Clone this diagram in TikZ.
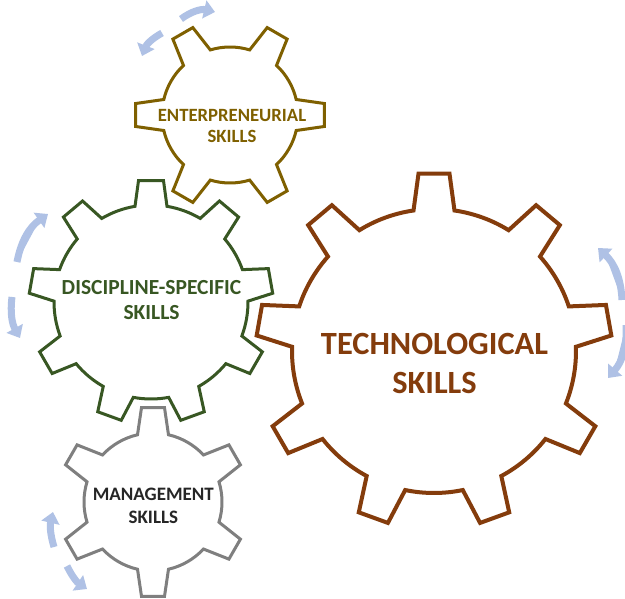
\documentclass[tikz,border=0pt]{standalone}
\usepackage{fontspec}
\setmainfont{Carlito}
\usetikzlibrary{arrows.meta}
\definecolor{olivec}{HTML}{7F6000}
\definecolor{greenc}{HTML}{385723}
\definecolor{grayc}{HTML}{7F7F7F}
\definecolor{mgtext}{HTML}{262626}
\definecolor{techc}{HTML}{843C0C}
\definecolor{arrowc}{HTML}{AFC1E5}
% #1 cx, #2 cy, #3 teeth, #4 first tooth angle, #5 tip radius, #6 root radius,
% #7 tip half width, #8 base half width, #9 style
\newcommand\drawgear[9]{%
  \pgfmathsetmacro\gstep{360/#3}%
  \pgfmathsetmacro\gth{asin(#7/#5)}%
  \pgfmathsetmacro\gbh{asin(#8/#6)}%
  \pgfmathtruncatemacro\glast{#3-1}%
  \draw[#9] ([shift={(#1,#2)}]{#4-\gbh}:#6)
    \foreach \k in {0,...,\glast}{%
      -- ([shift={(#1,#2)}]{#4+\k*\gstep-\gth}:#5)
      -- ([shift={(#1,#2)}]{#4+\k*\gstep+\gth}:#5)
      -- ([shift={(#1,#2)}]{#4+\k*\gstep+\gbh}:#6)
      arc[start angle={#4+\k*\gstep+\gbh}, end angle={#4+(\k+1)*\gstep-\gbh}, radius=#6]
    } -- cycle;
}
\begin{document}
\begin{tikzpicture}[x=1pt,y=1pt,
  gearline/.style={line join=miter, fill=white},
  cyc/.style={draw=arrowc, fill=arrowc, line width=7pt, -{Triangle[width=18pt,length=11pt]}},
  lbl/.style={anchor=base, inner sep=0pt}]
\clip (0,0) rectangle (625,-599);
\fill[white] (0,0) rectangle (625,-599);

% gears
\drawgear{434}{-351}{9}{90}{178}{142}{15.5}{20.5}{gearline, draw=techc, line width=4pt}
\drawgear{151}{-302}{9}{90}{122}{97}{12.5}{16}{gearline, draw=greenc, line width=3pt}
\drawgear{230}{-115}{6}{0}{95}{68}{11.5}{15.5}{gearline, draw=olivec, line width=3pt}
\drawgear{153}{-502}{6}{90}{95}{69}{11.5}{15.5}{gearline, draw=grayc, line width=3pt}

% labels
\node[lbl, text=olivec, font=\bfseries\fontsize{18.7}{21}\selectfont] (e1) at (232,-122) {ENTERPRENEURIAL};
\node[lbl, text=olivec, font=\bfseries\fontsize{18.7}{21}\selectfont] (e2) at (232,-143) {SKILLS};
\node[lbl, text=greenc, font=\bfseries\fontsize{21.5}{25}\selectfont] (d1) at (151.5,-295) {DISCIPLINE-SPECIFIC};
\node[lbl, text=greenc, font=\bfseries\fontsize{21.5}{25}\selectfont] (d2) at (151.5,-320) {SKILLS};
\node[lbl, text=mgtext, font=\bfseries\fontsize{19}{23}\selectfont] (m1) at (153.3,-500) {MANAGEMENT};
\node[lbl, text=mgtext, font=\bfseries\fontsize{19}{23}\selectfont] (m2) at (153.3,-523) {SKILLS};
\node[lbl, text=techc, font=\bfseries\fontsize{32.4}{38}\selectfont] (t1) at (434.5,-355) {TECHNOLOGICAL};
\node[lbl, text=techc, font=\bfseries\fontsize{32.4}{38}\selectfont] (t2) at (434.5,-393) {SKILLS};

% circular arrows
\coordinate (a1s) at (181,-19);  \coordinate (a1e) at (215,-12);
\coordinate (a2s) at (162,-33);  \coordinate (a2e) at (142,-56);
\coordinate (c1s) at (17,-262);  \coordinate (c1e) at (48,-214);
\coordinate (c2s) at (12,-297);  \coordinate (c2e) at (20,-338);
\coordinate (t1s) at (622,-300); \coordinate (t1e) at (598,-248);
\coordinate (t2s) at (626,-325); \coordinate (t2e) at (608,-378);
\coordinate (m1s) at (54,-547);  \coordinate (m1e) at (53,-512);
\coordinate (m2s) at (67,-566);  \coordinate (m2e) at (87,-589);
\draw[cyc] (a1s) to[bend left=25] (a1e);
\draw[cyc] (a2s) to[bend right=20] (a2e);
\draw[cyc] (c1s) to[bend left=22] (c1e);
\draw[cyc] (c2s) to[bend right=18] (c2e);
\draw[cyc] (t1s) to[bend right=22] (t1e);
\draw[cyc] (t2s) to[bend left=22] (t2e);
\draw[cyc] (m1s) to[bend left=15] (m1e);
\draw[cyc] (m2s) to[bend right=15] (m2e);
\end{tikzpicture}
\end{document}
